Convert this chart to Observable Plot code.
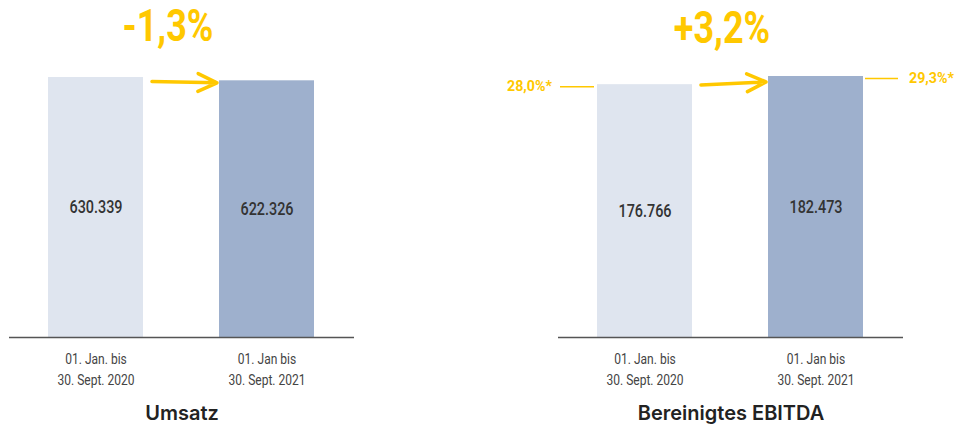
<!DOCTYPE html>
<html><head><meta charset="utf-8">
<script src="https://cdn.jsdelivr.net/npm/d3@7"></script>
<script src="https://cdn.jsdelivr.net/npm/@observablehq/plot@0.6"></script>
<style>
body{margin:0;background:#fff;}
#wrap{display:flex;width:963px;height:426px;overflow:hidden;}
</style></head><body><div id="wrap"></div>
<script>
// Data
const periods = ["01. Jan. bis\n30. Sept. 2020", "01. Jan bis\n30. Sept. 2021"];
const umsatz = [630339, 622326];
const ebitda = [176766, 182473];
const changeLabels = ["-1,3%", "+3,2%"];
const ebitdaMarginLabels = ["28,0%*", "29,3%*"];
const panelTitles = ["Umsatz", "Bereinigtes EBITDA"];
const barColors = ["#dfe5ef", "#9eb0cd"];

const YELLOW = "#ffc800";
const COND = "Roboto, 'Noto Sans', sans-serif";
const de = d3.formatLocale({decimal: ",", thousands: ".", grouping: [3], currency: ["", "€"]});
const fmt = de.format(",d");

function panel(opts) {
  const {values, change, title, width, marginLeft, marginRight, marginTop, changeDx, changeDy, margins} = opts;
  const data = periods.map((p, i) => ({period: p, value: values[i], color: barColors[i], margin: margins ? margins[i] : null}));
  const marks = [
    Plot.barY(data, {x: "period", y: "value", fill: "color"}),
    Plot.ruleY([0], {stroke: "#555", strokeWidth: 1.5}),
    Plot.axisX({tickSize: 0, tickPadding: 12, fontSize: 14, lineHeight: 1.5, fill: "#444", fontFamily: COND, label: null}),
    Plot.text(data, {x: "period", y: d => d.value / 2, text: d => fmt(d.value), fontSize: 18, fontWeight: 500, fill: "#333", fontFamily: COND, className: "sx80"}),
    Plot.arrow([data], {
      x1: d => d[0].period, y1: d => d[0].value,
      x2: d => d[1].period, y2: d => d[1].value,
      insetStart: 56, insetEnd: 50, dy: 3,
      stroke: YELLOW, strokeWidth: 3.5, headLength: 9, headAngle: 50
    }),
    Plot.text([change], {frameAnchor: "top", lineAnchor: "middle", dx: changeDx, dy: changeDy, fontSize: 45, fontWeight: "bold", fill: YELLOW, fontFamily: COND, className: "sx80"}),
    Plot.text([title], {frameAnchor: "bottom", lineAnchor: "middle", dy: 76, fontSize: 20, fontWeight: 600, fill: "#222", fontFamily: "Inter, 'Noto Sans', sans-serif"})
  ];
  if (margins) {
    marks.push(
      Plot.tickY([data[0]], {x: "period", y: "value", dx: -37, dy: 2, insetRight: 61, stroke: YELLOW, strokeWidth: 1.5}),
      Plot.tickY([data[1]], {x: "period", y: "value", dx: 97, dy: 2, insetRight: 62, stroke: YELLOW, strokeWidth: 1.5}),
      Plot.text([data[0]], {x: "period", y: "value", text: "margin", dx: -93, dy: 2, textAnchor: "end", fontSize: 15, fontWeight: "bold", fill: YELLOW, fontFamily: COND, className: "sx92"}),
      Plot.text([data[1]], {x: "period", y: "value", text: "margin", dx: 93, dy: 2, textAnchor: "start", fontSize: 15, fontWeight: "bold", fill: YELLOW, fontFamily: COND, className: "sx92"})
    );
  }
  const svg = Plot.plot({
    width, height: 426,
    marginLeft, marginRight, marginTop, marginBottom: 89,
    x: {domain: periods, paddingInner: 0.442, paddingOuter: 0.224},
    y: {domain: [0, d3.max(values)], axis: null},
    style: {background: "white", overflow: "visible"},
    marks
  });
  // narrow (condensed-looking) text
  const squeeze = (sel, k) => d3.select(svg).selectAll(sel).each(function () {
    const t = this.getAttribute("transform") || "";
    this.setAttribute("transform", t + ` scale(${k},1)`);
  });
  squeeze(".sx80 text", 0.8);
  squeeze(".sx92 text", 0.95);
  squeeze('g[aria-label="x-axis tick label"] text', 0.86);
  return svg;
}

const wrap = document.getElementById("wrap");
wrap.appendChild(panel({values: umsatz, change: changeLabels[0], title: panelTitles[0], width: 481, marginLeft: 9, marginRight: 127, marginTop: 77, changeDx: -14, changeDy: -51}));
wrap.appendChild(panel({values: ebitda, change: changeLabels[1], title: panelTitles[1], width: 482, marginLeft: 77, marginRight: 60, marginTop: 76, changeDx: -9, changeDy: -48, margins: ebitdaMarginLabels}));
</script></body></html>
